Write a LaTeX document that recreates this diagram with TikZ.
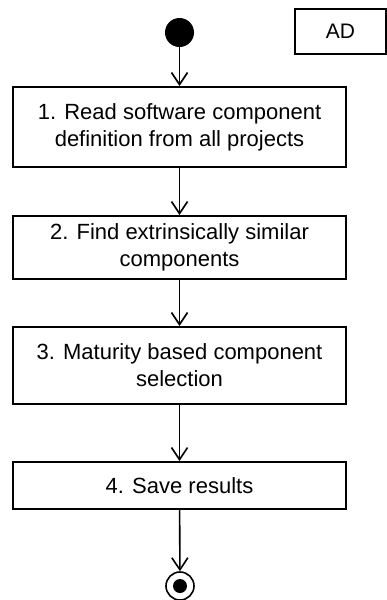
\documentclass[tikz,border=0pt]{standalone}
\usepackage{fontspec}
\setmainfont{Liberation Sans}
\usetikzlibrary{arrows.meta}
\begin{document}
\begin{tikzpicture}[x=1pt,y=-1pt,
  action/.style={draw, line width=2pt, minimum width=333pt, inner sep=0pt,
    align=center, font=\fontsize{22}{27}\selectfont},
  flow/.style={line width=1.6pt, -{Straight Barb[length=12pt,width=16pt,line width=1.6pt]}},
  every node/.style={text=black}]
  \useasboundingbox (0,0) rectangle (387,600);
  % title tag
  \node[draw, line width=1.6pt, minimum width=91pt, minimum height=45pt, inner sep=0pt,
    font=\fontsize{21}{25}\selectfont] (ad) at (340.5,31.5) {AD};
  % start state
  \node[circle, fill=black, minimum size=29pt, inner sep=0pt] (start) at (179.5,32.5) {};
  % actions
  \node[action, minimum height=80pt] (a1) at (179.5,127) {1. Read software component\\definition from all projects};
  \node[action, minimum height=63pt] (a2) at (179.5,247.5) {2. Find extrinsically similar\\components};
  \node[action, minimum height=77pt] (a3) at (179.5,365.5) {3. Maturity based component\\selection};
  \node[action, minimum height=47pt] (a4) at (179.5,485.5) {4. Save results};
  % final state
  \node[circle, draw, line width=1.6pt, minimum size=28pt, inner sep=0pt] (stop) at (180,586) {};
  \node[circle, fill=black, minimum size=14pt, inner sep=0pt] (stopdot) at (stop.center) {};
  % control flow
  \draw[flow] (start) -- (a1);
  \draw[flow] (a1) -- (a2);
  \draw[flow] (a2) -- (a3);
  \draw[flow] (a3) -- (a4);
  \draw[flow] (a4) -- (stop);
\end{tikzpicture}
\end{document}
